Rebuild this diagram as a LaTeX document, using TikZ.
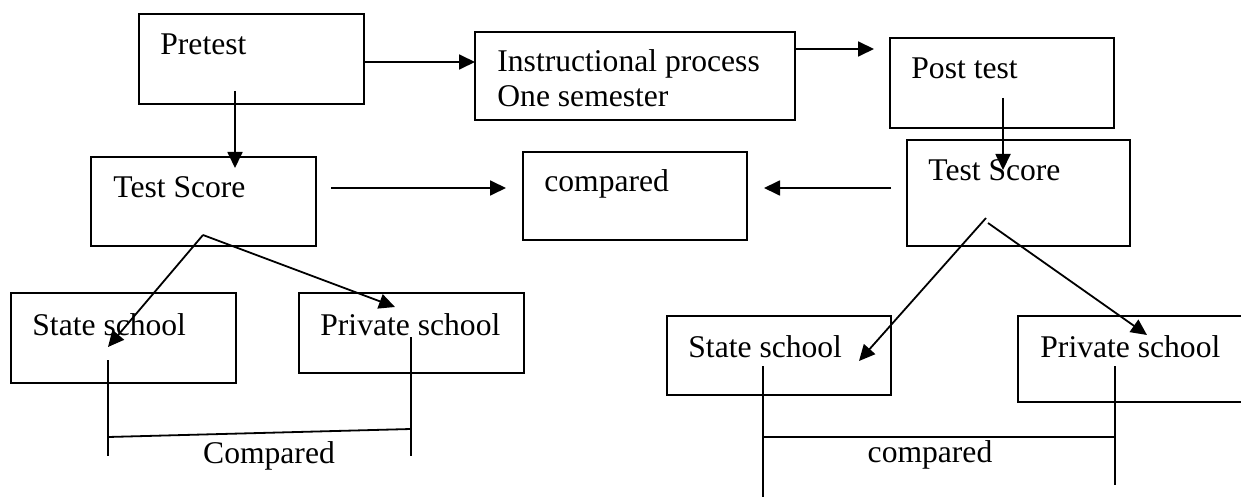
\documentclass[tikz,border=0pt]{standalone}
\usepackage{fontspec}
\setmainfont{Liberation Serif}
\usetikzlibrary{arrows.meta,fit}
\begin{document}
\begin{tikzpicture}[x=0.5pt,y=-0.5pt,
  box/.style={draw,line width=1pt,inner sep=0pt,rectangle},
  txt/.style={anchor=base west,inner sep=0pt,font=\fontsize{15.8pt}{17.5pt}\selectfont},
  ctxt/.style={anchor=base,inner sep=0pt,font=\fontsize{15.8pt}{17.5pt}\selectfont},
  arr/.style={-{Triangle[length=8pt,width=7.5pt]},line width=0.9pt},
  plain/.style={line width=0.9pt}]
\clip (0,0) rectangle (1241,497);
\useasboundingbox (0,0) rectangle (1241,497);
% boxes
\node[box,fit={(139,14) (364,104)}] (pre) {};
\node[box,fit={(475,32) (795,120)}] (ins) {};
\node[box,fit={(890,38) (1114,128)}] (post) {};
\node[box,fit={(91,157) (316,246)}] (tsa) {};
\node[box,fit={(523,152) (747,240)}] (cmp) {};
\node[box,fit={(907,140) (1130,246)}] (tsb) {};
\node[box,fit={(11,293) (236,383)}] (sta) {};
\node[box,fit={(299,293) (524,373)}] (pra) {};
\node[box,fit={(667,316) (891,395)}] (stb) {};
\node[box,fit={(1018,316) (1270,402)}] (prb) {};
% texts
\node[txt] (preT) at (160,55) {Pretest};
\node[txt] (insT1) at (497,72) {Instructional process};
\node[txt] (insT2) at (497,107) {One semester};
\node[txt] (postT) at (911,79) {Post test};
\node[txt] (tsaT) at (113,198) {Test Score};
\node[txt] (cmpT) at (544,192) {compared};
\node[txt] (tsbT) at (928,181) {Test Score};
\node[txt] (staT) at (32,335) {State school};
\node[txt] (praT) at (320,335) {Private school};
\node[ctxt] (cmpaT) at (269,463) {Compared};
\node[txt] (stbT) at (688,357) {State school};
\node[txt] (prbT) at (1040,357) {Private school};
\node[ctxt] (cmpbT) at (930,462) {compared};
% connector end points
\coordinate (a1) at (364,62);  \coordinate (a2) at (475,62);
\coordinate (b1) at (795,49);  \coordinate (b2) at (874,49);
\coordinate (c1) at (235,91);  \coordinate (c2) at (235,168);
\coordinate (d1) at (1003,98); \coordinate (d2) at (1003,170);
\coordinate (e1) at (331,188); \coordinate (e2) at (506,188);
\coordinate (f1) at (891,188); \coordinate (f2) at (764,188);
\coordinate (apa) at (203,235);
\coordinate (ga) at (108,347); \coordinate (gb) at (395,307);
\coordinate (apb1) at (986,218); \coordinate (apb2) at (988,223);
\coordinate (ha) at (859,361); \coordinate (hb) at (1147,335);
\coordinate (la1) at (108,360); \coordinate (la2) at (108,456);
\coordinate (lb1) at (411,337); \coordinate (lb2) at (411,456);
\coordinate (lh1) at (108,437); \coordinate (lh2) at (411,429);
\coordinate (ra1) at (763,366); \coordinate (ra2) at (763,498);
\coordinate (rb1) at (1115,366); \coordinate (rb2) at (1115,485);
\coordinate (rh1) at (763,437); \coordinate (rh2) at (1115,437);
% arrows
\draw[arr] (a1) -- (a2);
\draw[arr] (b1) -- (b2);
\draw[arr] (c1) -- (c2);
\draw[arr] (d1) -- (d2);
\draw[arr] (e1) -- (e2);
\draw[arr] (f1) -- (f2);
\draw[arr] (apa) -- (ga);
\draw[arr] (apa) -- (gb);
\draw[arr] (apb1) -- (ha);
\draw[arr] (apb2) -- (hb);
% brackets
\draw[plain] (la1) -- (la2);
\draw[plain] (lb1) -- (lb2);
\draw[plain] (lh1) -- (lh2);
\draw[plain] (ra1) -- (ra2);
\draw[plain] (rb1) -- (rb2);
\draw[plain] (rh1) -- (rh2);
\end{tikzpicture}
\end{document}
